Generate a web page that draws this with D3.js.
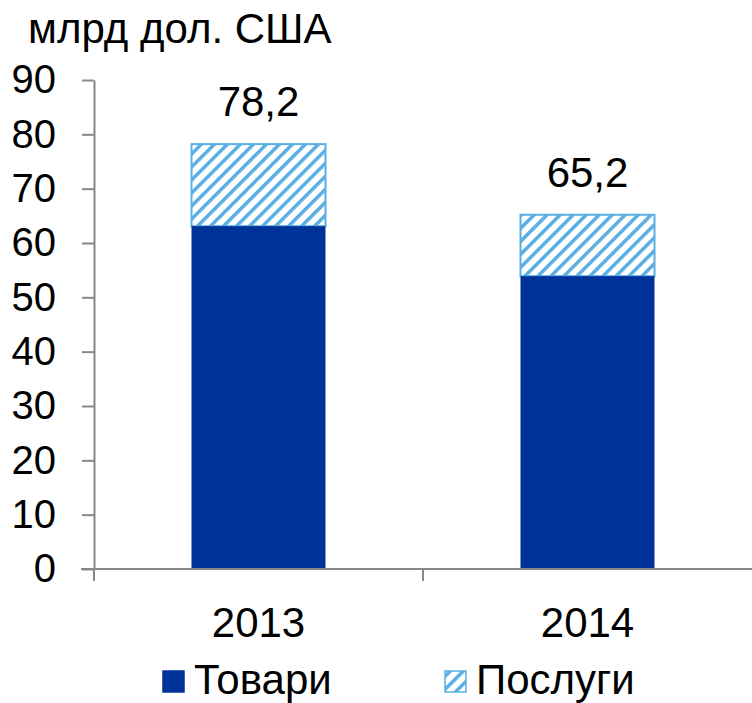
<!DOCTYPE html>
<html>
<head>
<meta charset="utf-8">
<script src="https://cdn.jsdelivr.net/npm/d3@7"></script>
<style>
  body { margin: 0; background: #fff; }
  text { font-family: "Liberation Sans", Arial, sans-serif; fill: #000; }
</style>
</head>
<body>
<div id="chart"></div>
<script>
const years = ["2013", "2014"];
const goods = [63.1, 53.9];
const totals = [78.2, 65.2];
const totalLabels = ["78,2", "65,2"];
const yTicks = [0, 10, 20, 30, 40, 50, 60, 70, 80, 90];
const seriesNames = ["Товари", "Послуги"];

const width = 752, height = 703;
const margin = { top: 80, right: 0, bottom: 134, left: 94 };
const innerW = width - margin.left - margin.right;
const innerH = height - margin.top - margin.bottom;

const navy = "#003399";
const lightBlue = "#5aaee2";

const svg = d3.select("#chart").append("svg")
    .attr("width", width)
    .attr("height", height);

const defs = svg.append("defs");
const pat = defs.append("pattern")
    .attr("id", "hatch")
    .attr("patternUnits", "userSpaceOnUse")
    .attr("width", 9.2)
    .attr("height", 9.2)
    .attr("patternTransform", "rotate(45)");
pat.append("rect").attr("width", 9.2).attr("height", 9.2).attr("fill", "#fff");
pat.append("line")
    .attr("x1", 0).attr("y1", 0).attr("x2", 0).attr("y2", 9.2)
    .attr("stroke", lightBlue).attr("stroke-width", 7);

const g = svg.append("g").attr("transform", `translate(${margin.left},${margin.top})`);

const x = d3.scaleBand().domain(years).range([0, innerW]).paddingInner(0).paddingOuter(0);
const y = d3.scaleLinear().domain([0, 90]).range([innerH, 0]);

const barW = 134;

// hatched services on top of goods
g.selectAll(".serv")
    .data(years)
    .enter().append("rect")
    .attr("x", d => x(d) + x.bandwidth() / 2 - barW / 2)
    .attr("y", (d, i) => y(totals[i]))
    .attr("width", barW)
    .attr("height", (d, i) => y(goods[i]) - y(totals[i]))
    .attr("fill", "url(#hatch)")
    .attr("stroke", lightBlue)
    .attr("stroke-width", 2);

g.selectAll(".goods")
    .data(years)
    .enter().append("rect")
    .attr("x", d => x(d) + x.bandwidth() / 2 - barW / 2)
    .attr("y", (d, i) => y(goods[i]))
    .attr("width", barW)
    .attr("height", (d, i) => innerH - y(goods[i]))
    .attr("fill", navy);

// y axis
const yAxis = g.append("g")
    .call(d3.axisLeft(y).tickValues(yTicks).tickSize(12).tickSizeOuter(0).tickPadding(26));
yAxis.select(".domain").attr("stroke", "#888").attr("stroke-width", 2);
yAxis.selectAll(".tick line").attr("stroke", "#888").attr("stroke-width", 2);
yAxis.selectAll("text").style("font-size", "40px").attr("fill", "#000");

// x axis
const xAxis = g.append("g")
    .attr("transform", `translate(0,${innerH})`)
    .call(d3.axisBottom(x).tickSize(0).tickPadding(38));
xAxis.select(".domain").attr("stroke", "#888").attr("stroke-width", 2).attr("d", `M-13,0H${innerW}`);
xAxis.selectAll("text").style("font-size", "42px").attr("fill", "#000");
// category boundary ticks
g.selectAll(".xb")
    .data([0, 1])
    .enter().append("line")
    .attr("x1", d => x(years[d])).attr("x2", d => x(years[d]))
    .attr("y1", innerH).attr("y2", innerH + 12)
    .attr("stroke", "#888").attr("stroke-width", 2);

// value labels
g.selectAll(".lbl")
    .data(years)
    .enter().append("text")
    .attr("x", d => x(d) + x.bandwidth() / 2)
    .attr("y", (d, i) => y(totals[i]) - 28)
    .attr("text-anchor", "middle")
    .style("font-size", "42px")
    .text((d, i) => totalLabels[i]);

// unit title
svg.append("text")
    .attr("x", 28).attr("y", 43)
    .style("font-size", "42px")
    .text("млрд дол. США");

// legend
const legend = svg.append("g");
const legendX = [163, 445];
legend.selectAll("rect")
    .data(seriesNames)
    .enter().append("rect")
    .attr("x", (d, i) => legendX[i])
    .attr("y", 671)
    .attr("width", 21).attr("height", 21)
    .attr("fill", (d, i) => i === 0 ? navy : "url(#hatch)")
    .attr("stroke", (d, i) => i === 0 ? navy : lightBlue)
    .attr("stroke-width", 1.5);
legend.selectAll("text")
    .data(seriesNames)
    .enter().append("text")
    .attr("x", (d, i) => legendX[i] + 31)
    .attr("y", 694)
    .style("font-size", "42px")
    .text(d => d);
</script>
</body>
</html>
